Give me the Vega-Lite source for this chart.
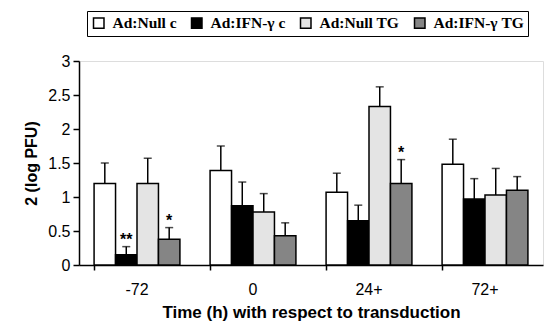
{
  "$schema": "https://vega.github.io/schema/vega-lite/v6.json",
  "width": 464,
  "height": 204,
  "autosize": "none",
  "padding": {"left": 79, "top": 61, "right": 3, "bottom": 63},
  "background": "white",
  "config": {
    "axisY": {
      "values": [0, 0.5, 1, 1.5, 2, 2.5, 3],
      "labelOverlap": false, "grid": false,
      "titleFont": "Liberation Sans", "titleFontSize": 16, "titleFontWeight": "bold", "titleColor": "black",
      "titlePadding": 8,
      "labelFont": "Liberation Sans", "labelFontSize": 16, "labelColor": "black", "labelPadding": 3,
      "tickSize": 6, "tickColor": "black", "tickWidth": 1.5,
      "domainColor": "black", "domainWidth": 1.5
    }
  },
  "data": {
    "values": [
      {"time": "-72", "group": "Ad:Null c", "value": 1.2, "err": 1.5, "star": ""},
      {"time": "-72", "group": "Ad:IFN-γ c", "value": 0.15, "err": 0.27, "star": "**"},
      {"time": "-72", "group": "Ad:Null TG", "value": 1.2, "err": 1.57, "star": ""},
      {"time": "-72", "group": "Ad:IFN-γ TG", "value": 0.38, "err": 0.55, "star": "*"},
      {"time": "0", "group": "Ad:Null c", "value": 1.39, "err": 1.75, "star": ""},
      {"time": "0", "group": "Ad:IFN-γ c", "value": 0.87, "err": 1.22, "star": ""},
      {"time": "0", "group": "Ad:Null TG", "value": 0.78, "err": 1.05, "star": ""},
      {"time": "0", "group": "Ad:IFN-γ TG", "value": 0.43, "err": 0.62, "star": ""},
      {"time": "24+", "group": "Ad:Null c", "value": 1.07, "err": 1.35, "star": ""},
      {"time": "24+", "group": "Ad:IFN-γ c", "value": 0.65, "err": 0.88, "star": ""},
      {"time": "24+", "group": "Ad:Null TG", "value": 2.33, "err": 2.62, "star": ""},
      {"time": "24+", "group": "Ad:IFN-γ TG", "value": 1.2, "err": 1.55, "star": "*"},
      {"time": "72+", "group": "Ad:Null c", "value": 1.48, "err": 1.85, "star": ""},
      {"time": "72+", "group": "Ad:IFN-γ c", "value": 0.97, "err": 1.27, "star": ""},
      {"time": "72+", "group": "Ad:Null TG", "value": 1.03, "err": 1.42, "star": ""},
      {"time": "72+", "group": "Ad:IFN-γ TG", "value": 1.1, "err": 1.3, "star": ""}
    ]
  },
  "encoding": {
    "x": {
      "field": "time", "type": "nominal", "sort": ["-72", "0", "24+", "72+"],
      "scale": {"paddingInner": 0.26, "paddingOuter": 0.13},
      "axis": {
        "title": "Time (h) with respect to transduction",
        "titleFont": "Liberation Sans", "titleFontSize": 17, "titleFontWeight": "bold", "titleColor": "black",
        "titlePadding": 7,
        "labelAngle": 0, "labelFont": "Liberation Sans", "labelFontSize": 16, "labelColor": "black",
        "labelPadding": 11,
        "bandPosition": 0, "tickSize": 5, "tickColor": "black", "tickWidth": 1.5,
        "domainColor": "black", "domainWidth": 1.5
      }
    },
    "xOffset": {
      "field": "group", "type": "nominal",
      "sort": ["Ad:Null c", "Ad:IFN-γ c", "Ad:Null TG", "Ad:IFN-γ TG"],
      "scale": {"paddingInner": 0}
    }
  },
  "layer": [
    {
      "mark": {"type": "bar", "stroke": "black", "strokeWidth": 1.5},
      "encoding": {
        "y": {
          "field": "value", "type": "quantitative",
          "scale": {"domain": [0, 3]},
          "axis": {"title": "2 (log PFU)", "format": "~g", "values": [0, 0.5, 1, 1.5, 2, 2.5, 3]}
        },
        "fill": {
          "field": "group", "type": "nominal",
          "sort": ["Ad:Null c", "Ad:IFN-γ c", "Ad:Null TG", "Ad:IFN-γ TG"],
          "scale": {
            "domain": ["Ad:Null c", "Ad:IFN-γ c", "Ad:Null TG", "Ad:IFN-γ TG"],
            "range": ["#ffffff", "#000000", "#e4e4e4", "#858585"]
          },
          "legend": {
            "title": null, "orient": "none", "legendX": 8, "legendY": -50,
            "direction": "horizontal", "columns": 4, "columnPadding": 11,
            "strokeColor": "black", "padding": 4,
            "labelFont": "Liberation Serif", "labelFontSize": 15.5, "labelFontWeight": "bold", "labelColor": "black",
            "symbolType": "square", "symbolSize": 110, "symbolStrokeColor": "black", "symbolStrokeWidth": 1.5,
            "labelOffset": 6
          }
        }
      }
    },
    {
      "mark": {"type": "rule", "color": "black", "strokeWidth": 1.5},
      "encoding": {
        "y": {"field": "value", "type": "quantitative", "axis": {"title": "2 (log PFU)", "format": "~g", "values": [0, 0.5, 1, 1.5, 2, 2.5, 3]}},
        "y2": {"field": "err"}
      }
    },
    {
      "mark": {"type": "tick", "color": "black", "thickness": 1.5, "size": 8},
      "encoding": {
        "y": {"field": "err", "type": "quantitative", "axis": {"title": "2 (log PFU)", "format": "~g", "values": [0, 0.5, 1, 1.5, 2, 2.5, 3]}}
      }
    },
    {
      "mark": {"type": "text", "baseline": "bottom", "dy": 1, "font": "Liberation Sans", "fontSize": 16, "fontWeight": "bold", "color": "black"},
      "encoding": {
        "y": {"field": "err", "type": "quantitative", "axis": {"title": "2 (log PFU)", "format": "~g", "values": [0, 0.5, 1, 1.5, 2, 2.5, 3]}},
        "text": {"field": "star"}
      }
    }
  ]
}
